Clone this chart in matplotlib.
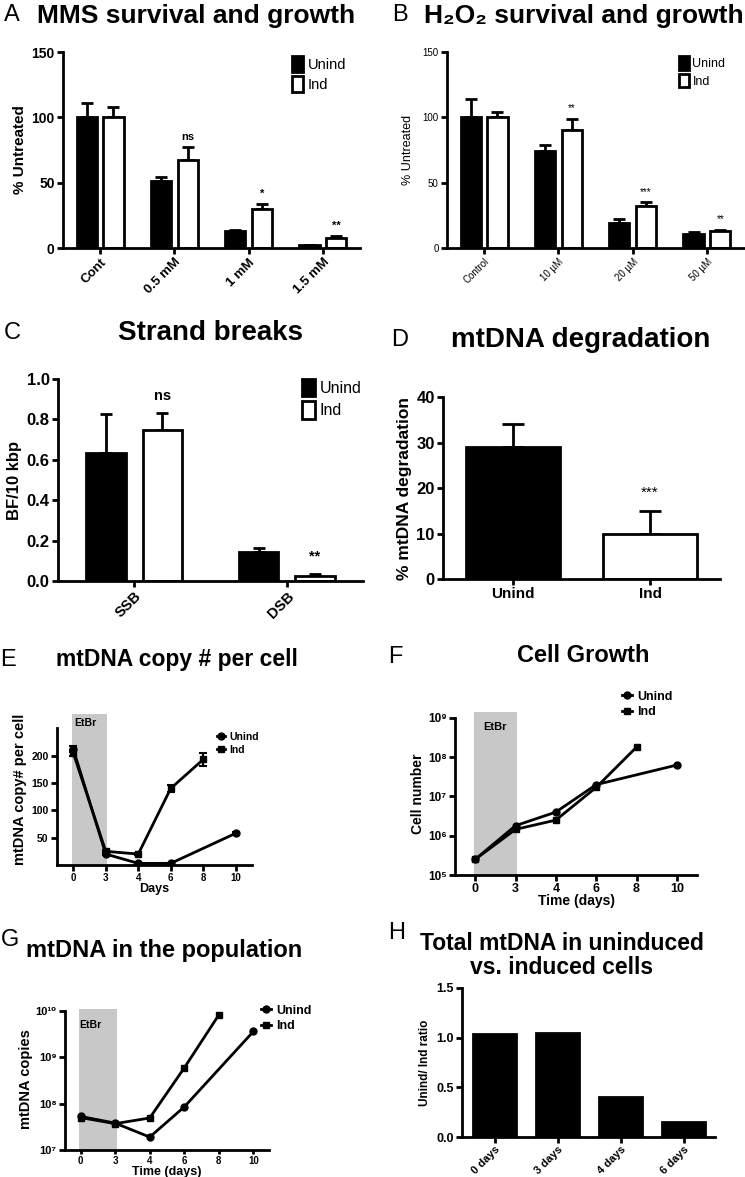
import numpy as np
import matplotlib
matplotlib.use("Agg")
import matplotlib.pyplot as plt
from matplotlib.lines import Line2D
from matplotlib.patches import Patch

plt.rcParams['font.family'] = ['Liberation Sans', 'DejaVu Sans']
plt.rcParams['axes.linewidth'] = 2

# A: MMS survival
mms_doses = ["Cont", "0.5 mM", "1 mM", "1.5 mM"]
mms_unind = [100, 51, 13, 2]
mms_unind_err = [11, 3, 1, 0.5]
mms_ind = [100, 67, 30, 8]
mms_ind_err = [8, 10, 4, 1]
mms_sig = ["", "ns", "*", "**"]

# B: H2O2 survival
h2o2_doses = ["Control", "10 \u00b5M", "20 \u00b5M", "50 \u00b5M"]
h2o2_unind = [100, 74, 19, 11]
h2o2_unind_err = [14, 5, 3, 1]
h2o2_ind = [100, 90, 32, 13]
h2o2_ind_err = [4, 9, 3, 1]
h2o2_sig = ["", "**", "***", "**"]

# C: strand breaks
break_types = ["SSB", "DSB"]
breaks_unind = [0.635, 0.145]
breaks_unind_err = [0.19, 0.018]
breaks_ind = [0.75, 0.025]
breaks_ind_err = [0.08, 0.012]
breaks_sig = ["ns", "**"]

# D: mtDNA degradation
degr_groups = ["Unind", "Ind"]
degr_values = [29, 10]
degr_err = [5, 5]

# E/F/G: time courses (days shown as evenly spaced categories)
day_labels = ["0", "3", "4", "6", "8", "10"]
unind_days = ["0", "3", "4", "6", "10"]
ind_days = ["0", "3", "4", "6", "8"]

copy_unind = [212, 20, 3, 3, 58]
copy_unind_err = [6, 2, 1, 1, 2]
copy_ind = [205, 25, 20, 140, 193]
copy_ind_err = [6, 2, 2, 6, 12]

growth_unind = [2.5e5, 1.8e6, 4.0e6, 2.0e7, 6.3e7]
growth_ind = [2.5e5, 1.45e6, 2.5e6, 1.7e7, 1.8e8]

pop_unind = [5.3e7, 3.8e7, 1.9e7, 8.5e7, 3.6e9]
pop_ind = [5.0e7, 3.7e7, 4.9e7, 5.9e8, 8.2e9]

# H: ratio
ratio_days = ["0 days", "3 days", "4 days", "6 days"]
ratio_values = [1.04, 1.05, 0.40, 0.15]

W, H = 745, 1177
fig = plt.figure(figsize=(W / 100, H / 100), dpi=100)


def add_ax(x0, y0, x1, y1):
    return fig.add_axes([x0 / W, 1 - y1 / H, (x1 - x0) / W, (y1 - y0) / H])


def fig_text(x, y, s, **kw):
    fig.text(x / W, 1 - y / H, s, ha='center', va='center', **kw)


def prism(ax, xsize=8, ysize=8, weight='bold'):
    ax.spines[['top', 'right']].set_visible(False)
    ax.tick_params(width=2, length=4, pad=2)
    ax.tick_params(axis='x', labelsize=xsize)
    ax.tick_params(axis='y', labelsize=ysize)
    for lab in ax.get_xticklabels() + ax.get_yticklabels():
        lab.set_fontweight(weight)


def grouped_bars(ax, cats, unind, unind_err, ind, ind_err, width, off, sig, sig_pad,
                 sig_size, sig_weight):
    x = np.arange(len(cats))
    zeros = np.zeros(len(cats))
    ax.errorbar(x - off, unind, yerr=[zeros, unind_err], fmt='none', ecolor='black',
                elinewidth=2, capsize=4, capthick=2, zorder=1)
    ax.errorbar(x + off, ind, yerr=[zeros, ind_err], fmt='none', ecolor='black',
                elinewidth=2, capsize=4, capthick=2, zorder=1)
    ax.bar(x - off, unind, width, color='black', edgecolor='black', linewidth=2, zorder=2)
    ax.bar(x + off, ind, width, color='white', edgecolor='black', linewidth=2, zorder=2)
    for xi, v, e, s in zip(x, ind, ind_err, sig):
        if s:
            ax.text(xi + off, v + e + sig_pad, s, ha='center', va='bottom',
                    fontsize=sig_size, fontweight=sig_weight)
    ax.set_xticks(x)
    ax.set_xlim(-0.5, len(cats) - 0.5)


def bar_legend(ax, anchor, size):
    handles = [Patch(facecolor='black', edgecolor='black', linewidth=2),
               Patch(facecolor='white', edgecolor='black', linewidth=2)]
    ax.legend(handles, ['Unind', 'Ind'], loc='upper left', bbox_to_anchor=anchor,
              frameon=False, fontsize=size, handlelength=0.8, handleheight=1.3,
              handletextpad=0.3, labelspacing=0.3, borderpad=0, borderaxespad=0)


def line_legend(ax, anchor, size):
    handles = [Line2D([], [], color='black', lw=2, marker='o', ms=5),
               Line2D([], [], color='black', lw=2, marker='s', ms=5)]
    ax.legend(handles, ['Unind', 'Ind'], loc='upper left', bbox_to_anchor=anchor,
              frameon=False, handlelength=0.8, handletextpad=0.4,
              labelspacing=0.25, borderpad=0, borderaxespad=0,
              prop={'weight': 'bold', 'size': size})


def time_course(ax, unind, ind, unind_err=None, ind_err=None):
    xu = [day_labels.index(d) for d in unind_days]
    xi = [day_labels.index(d) for d in ind_days]
    ax.errorbar(xu, unind, yerr=unind_err, color='black', lw=2, marker='o', ms=5,
                capsize=3, capthick=1.5, elinewidth=1.5, zorder=3)
    ax.errorbar(xi, ind, yerr=ind_err, color='black', lw=2, marker='s', ms=5,
                capsize=3, capthick=1.5, elinewidth=1.5, zorder=3)
    ax.axvspan(-0.04, 1.04, color='#c8c8c8', lw=0, zorder=0)
    ax.set_xticks(range(len(day_labels)))
    ax.set_xticklabels(day_labels)
    ax.set_xlim(-0.5, len(day_labels) - 0.5)


sup = str.maketrans("0123456789", "\u2070\u00b9\u00b2\u00b3\u2074\u2075\u2076\u2077\u2078\u2079")

# ---- A ----
axA = add_ax(63, 52, 360, 248)
grouped_bars(axA, mms_doses, mms_unind, mms_unind_err, mms_ind, mms_ind_err,
             0.27, 0.18, mms_sig, 4, 8, 'bold')
axA.set_ylim(0, 150)
axA.set_yticks([0, 50, 100, 150])
axA.set_xticklabels(mms_doses, rotation=45, ha='right', rotation_mode='anchor')
axA.set_ylabel('% Untreated', fontsize=11, fontweight='bold', labelpad=3)
prism(axA, 9.5, 10)
bar_legend(axA, (0.77, 0.98), 10.5)
fig_text(12, 15, 'A', fontsize=17)
fig_text(196, 16, 'MMS survival and growth', fontsize=19, fontweight='bold')

# ---- B ----
axB = add_ax(447, 52, 744, 248)
grouped_bars(axB, h2o2_doses, h2o2_unind, h2o2_unind_err, h2o2_ind, h2o2_ind_err,
             0.27, 0.18, h2o2_sig, 4, 7, 'normal')
axB.set_ylim(0, 150)
axB.set_yticks([0, 50, 100, 150])
axB.set_xticklabels(h2o2_doses, rotation=45, ha='right', rotation_mode='anchor')
axB.set_ylabel('% Untreated', fontsize=9, labelpad=6)
prism(axB, 7, 7, 'normal')
bar_legend(axB, (0.78, 0.98), 9)
fig_text(400, 15, 'B', fontsize=17)
fig_text(584, 16, 'H\u2082O\u2082 survival and growth', fontsize=19, fontweight='bold')

# ---- C ----
axC = add_ax(58, 379, 363, 581)
grouped_bars(axC, break_types, breaks_unind, breaks_unind_err, breaks_ind, breaks_ind_err,
             0.26, 0.185, breaks_sig, 0.05, 10.5, 'bold')
axC.set_ylim(0, 1.0)
axC.set_yticks([0, 0.2, 0.4, 0.6, 0.8, 1.0])
axC.set_yticklabels(['0.0', '0.2', '0.4', '0.6', '0.8', '1.0'])
axC.set_xticklabels(break_types, rotation=45, ha='right', rotation_mode='anchor')
axC.set_ylabel('BF/10 kbp', fontsize=12, fontweight='bold', labelpad=3)
prism(axC, 10.5, 12)
bar_legend(axC, (0.80, 1.0), 11.5)
fig_text(12, 333, 'C', fontsize=17)
fig_text(210, 333, 'Strand breaks', fontsize=20, fontweight='bold')

# ---- D ----
axD = add_ax(443, 397, 720, 579)
xd = np.arange(len(degr_groups))
axD.errorbar(xd, degr_values, yerr=[np.zeros(len(xd)), degr_err], fmt='none',
             ecolor='black', elinewidth=2, capsize=8, capthick=2, zorder=1)
axD.bar(xd, degr_values, 0.68, color=['black', 'white'], edgecolor='black',
        linewidth=2, zorder=2)
axD.text(xd[1], degr_values[1] + degr_err[1] + 2.5, '***', ha='center', va='bottom',
         fontsize=11)
axD.set_xticks(xd)
axD.set_xticklabels(degr_groups)
axD.set_xlim(-0.51, 1.51)
axD.set_ylim(0, 40)
axD.set_yticks([0, 10, 20, 30, 40])
axD.set_ylabel('% mtDNA degradation', fontsize=12.5, fontweight='bold', labelpad=3)
prism(axD, 11, 12)
fig_text(400, 340, 'D', fontsize=17)
fig_text(581, 340, 'mtDNA degradation', fontsize=20, fontweight='bold')

# ---- E ----
axE = add_ax(57, 714, 252, 865)
time_course(axE, copy_unind, copy_ind, copy_unind_err, copy_ind_err)
axE.set_ylim(0, 276)
axE.spines['left'].set_bounds(0, 250)
axE.set_yticks([50, 100, 150, 200])
axE.set_ylabel('mtDNA copy# per cell', fontsize=10.5, fontweight='bold', labelpad=3)
axE.set_xlabel('Days', fontsize=9, fontweight='bold', labelpad=0)
prism(axE, 7, 7.5)
axE.text(0.37, 0.94, 'EtBr', ha='center', va='center', fontsize=7.5, fontweight='bold',
         transform=axE.get_xaxis_transform())
line_legend(axE, (0.82, 0.88), 7.5)
fig_text(8, 660, 'E', fontsize=17)
fig_text(177, 660, 'mtDNA copy # per cell', fontsize=16.5, fontweight='bold')

# ---- F ----
axF = add_ax(455, 712, 697, 875)
time_course(axF, growth_unind, growth_ind)
axF.set_yscale('log')
axF.set_ylim(1e5, 10 ** 9.15)
axF.spines['left'].set_bounds(1e5, 1e9)
decF = [5, 6, 7, 8, 9]
axF.set_yticks([10.0 ** d for d in decF])
axF.set_yticklabels(['10' + str(d).translate(sup) for d in decF])
axF.minorticks_off()
axF.set_ylabel('Cell number', fontsize=10, fontweight='bold', labelpad=2)
axF.set_xlabel('Time (days)', fontsize=10, fontweight='bold', labelpad=-1)
prism(axF, 9, 8.5)
axF.text(0.5, 0.91, 'EtBr', ha='center', va='center', fontsize=8, fontweight='bold',
         transform=axF.get_xaxis_transform())
line_legend(axF, (0.69, 1.13), 9)
fig_text(395, 657, 'F', fontsize=17)
fig_text(583, 655, 'Cell Growth', fontsize=17, fontweight='bold')

# ---- G ----
axG = add_ax(65, 1009, 269, 1150)
time_course(axG, pop_unind, pop_ind)
axG.set_yscale('log')
axG.set_ylim(1e7, 10 ** 10.04)
axG.spines['left'].set_bounds(1e7, 1e10)
decG = [7, 8, 9, 10]
axG.set_yticks([10.0 ** d for d in decG])
axG.set_yticklabels(['10' + str(d).translate(sup) for d in decG])
axG.minorticks_off()
axG.set_xlim(-0.45, 5.45)
axG.set_ylabel('mtDNA copies', fontsize=10.5, fontweight='bold', labelpad=2)
prism(axG, 7, 8)
axG.tick_params(axis='x', length=3, pad=1)
axG.set_xlabel('Time (days)', fontsize=9, fontweight='bold', labelpad=0)
axG.text(0.27, 0.89, 'EtBr', ha='center', va='center', fontsize=7.5, fontweight='bold',
         transform=axG.get_xaxis_transform())
line_legend(axG, (0.96, 1.03), 9)
fig_text(10, 940, 'G', fontsize=17)
fig_text(164, 950, 'mtDNA in the population', fontsize=17, fontweight='bold')

# ---- H ----
axH = add_ax(462, 988, 715, 1137)
xh = np.arange(len(ratio_days))
axH.bar(xh, ratio_values, 0.69, color='black', edgecolor='black', linewidth=2)
axH.set_xticks(xh)
axH.set_xticklabels(ratio_days, rotation=45, ha='right', rotation_mode='anchor')
axH.set_xlim(-0.52, 3.5)
axH.set_ylim(0, 1.5)
axH.set_yticks([0, 0.5, 1.0, 1.5])
axH.set_ylabel('Unind/ Ind ratio', fontsize=8.5, fontweight='bold', labelpad=4)
prism(axH, 8, 9)
axH.tick_params(axis='x', pad=1)
fig_text(397, 933, 'H', fontsize=17)
fig_text(562, 943, 'Total mtDNA in uninduced', fontsize=16.5, fontweight='bold')
fig_text(562, 967, 'vs. induced cells', fontsize=16.5, fontweight='bold')

fig.savefig('out.png', dpi=100)
